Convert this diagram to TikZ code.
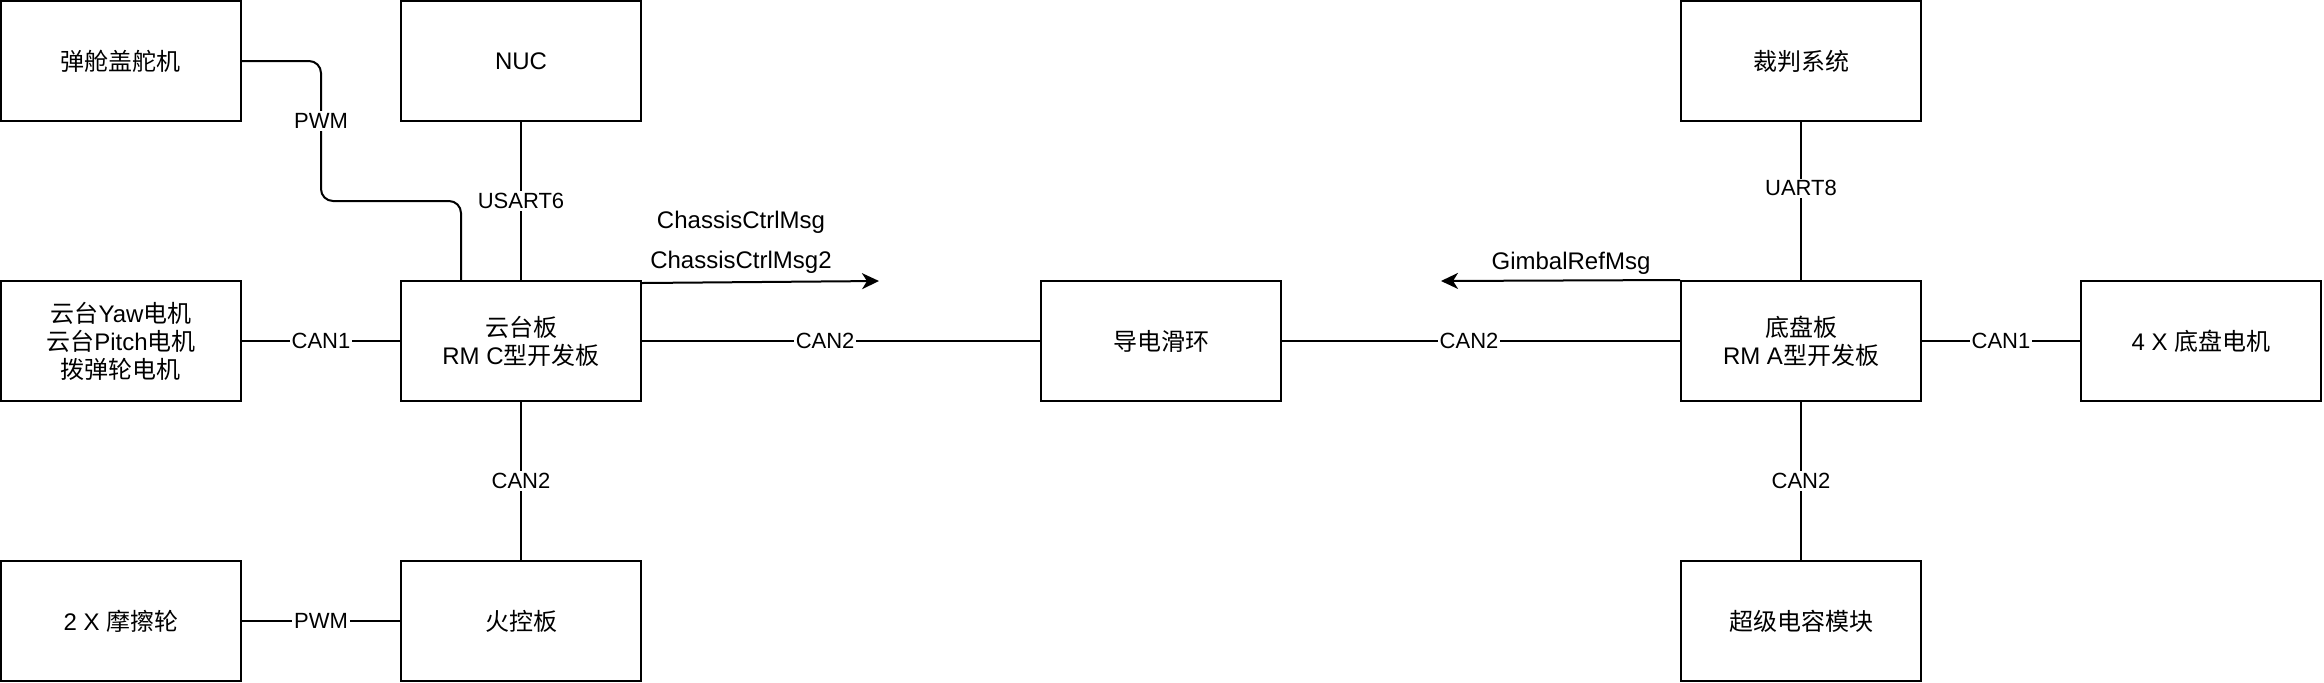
\documentclass[tikz,border=0pt]{standalone}
\usepackage{fontspec}
\setmainfont{Liberation Sans}
\newfontfamily\cjk{Noto Sans CJK SC}
\usetikzlibrary{arrows.meta}

\begin{document}
\begin{tikzpicture}[x=0.5pt, y=-0.5pt, line width=1pt, font=\fontsize{12}{14}\selectfont,
    box/.style={draw, minimum width=120pt, minimum height=60pt, align=center, inner sep=2pt},
    lbl/.style={fill=white, inner sep=1pt, font=\fontsize{11}{13}\selectfont},
    msg/.style={-{Stealth[length=8.5pt, width=8pt, inset=2.5pt]}}]
    \useasboundingbox (0,0) rectangle (2324,682);

    % Gimbal side
    \node[box] (servo) at (121,61) {\cjk 弹舱盖舵机};
    \node[box] (nuc) at (521,61) {NUC};
    \node[box] (gmotor) at (121,341) {{\cjk 云台}Yaw{\cjk 电机}\\{\cjk 云台}Pitch{\cjk 电机}\\{\cjk 拨弹轮电机}};
    \node[box] (gboard) at (521,341) {{\cjk 云台板}\\RM C{\cjk 型开发板}};
    \node[box] (fric) at (121,621) {2 X {\cjk 摩擦轮}};
    \node[box] (fire) at (521,621) {\cjk 火控板};

    % Slip ring
    \node[box] (slip) at (1161,341) {\cjk 导电滑环};

    % Chassis side
    \node[box] (referee) at (1801,61) {\cjk 裁判系统};
    \node[box] (cboard) at (1801,341) {{\cjk 底盘板}\\RM A{\cjk 型开发板}};
    \node[box] (cmotor) at (2201,341) {4 X {\cjk 底盘电机}};
    \node[box] (supercap) at (1801,621) {\cjk 超级电容模块};

    % Buses
    \draw[rounded corners=6pt] ([xshift=-30pt]gboard.north) |- (321,201) |- (servo.east);
    \node[lbl] (pwmservo) at (321,121) {PWM};
    \draw (nuc) -- (gboard) node[lbl, pos=0.5] {USART6};
    \draw (gmotor) -- (gboard) node[lbl, midway] {CAN1};
    \draw (gboard) -- (fire) node[lbl, midway] {CAN2};
    \draw (fric) -- (fire) node[lbl, midway] {PWM};
    \draw (gboard) -- (slip) node[lbl, pos=0.46] {CAN2};
    \draw (slip) -- (cboard) node[lbl, pos=0.47] {CAN2};
    \draw (referee) -- (cboard) node[lbl, pos=0.42] {UART8};
    \draw (cboard) -- (cmotor) node[lbl, midway] {CAN1};
    \draw (cboard) -- (supercap) node[lbl, midway] {CAN2};

    % Messages
    \coordinate (chassisend) at (879,281);
    \coordinate (gimbalend) at (1441,281);
    \draw[msg] ([yshift=-1.5pt]gboard.north east) -- (chassisend);
    \node (chassismsg) at (741,222) {ChassisCtrlMsg};
    \node (chassismsgtwo) at (741,262) {ChassisCtrlMsg2};
    \draw[msg] (cboard.north west) -- (gimbalend);
    \node (gimbalmsg) at (1571,263) {GimbalRefMsg};
\end{tikzpicture}
\end{document}
